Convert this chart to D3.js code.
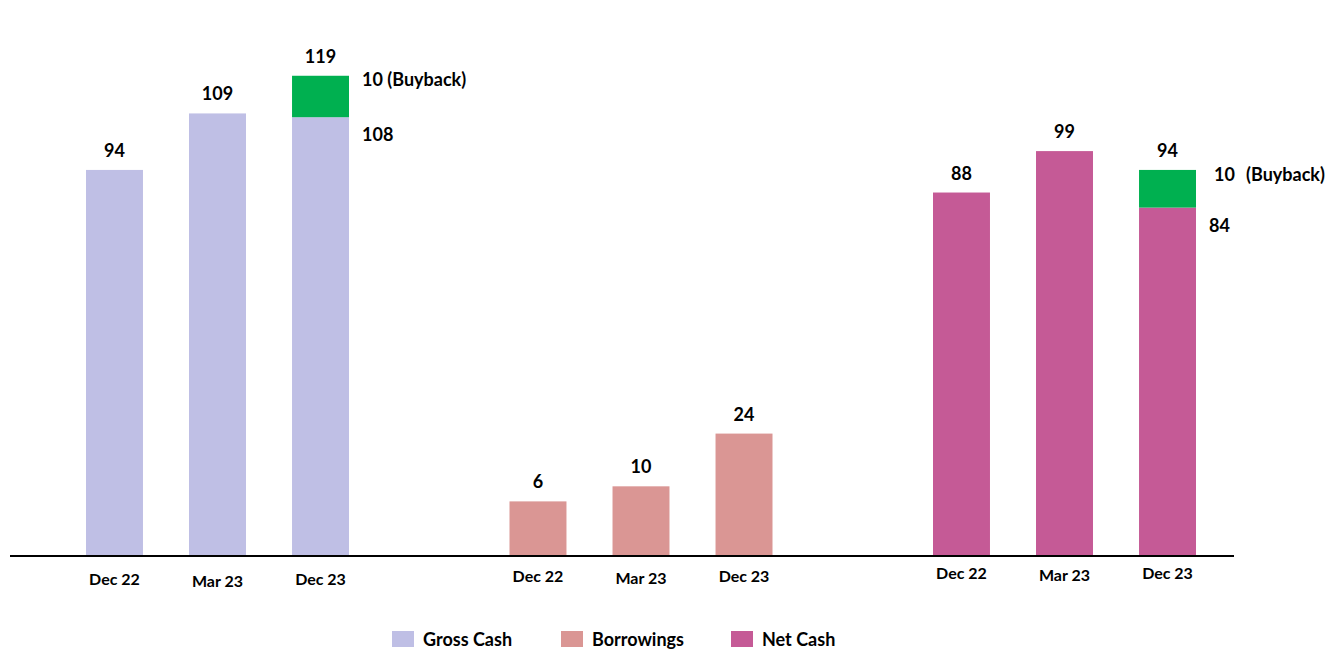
<!DOCTYPE html>
<html><head><meta charset="utf-8">
<script src="https://cdn.jsdelivr.net/npm/d3@7"></script>
<style>
body{margin:0;background:#fff;}
text{font-family:Lato,"Open Sans",sans-serif;font-weight:700;fill:#000;}
</style></head>
<body>
<svg id="chart" width="1332" height="649"></svg>
<script>
// Data
const groups = ["Gross Cash", "Borrowings", "Net Cash"];
const periods = ["Dec 22", "Mar 23", "Dec 23"];
const grossCash = [94, 109, 108];
const borrowings = [6, 10, 24];
const netCash = [88, 99, 84];
const buyback = [0, 0, 10];          // buyback added on top of Dec 23 (Gross & Net)
const stackTotals = [119, null, 94];  // labels shown above stacked bars
const colors = ["#BFBFE5", "#DA9694", "#C55A96"];
const buybackColor = "#00B050";

const series = [grossCash, borrowings, netCash];
const svg = d3.select("#chart");
const baseline = 556;

const y = d3.scaleLinear().domain([-8.5, 120]).range([baseline, 72]);
const xg = d3.scalePoint().domain(groups).range([217.5, 1064.5]);
const xi = d3.scaleBand().domain(periods).range([-131.5, 131.5]).paddingInner(0.447).paddingOuter(0);

groups.forEach((g, gi) => {
  const vals = series[gi];
  const gx = xg(g);
  const G = svg.append("g").attr("transform", `translate(${gx},0)`);
  vals.forEach((v, i) => {
    const p = periods[i];
    const x0 = xi(p);
    const bw = xi.bandwidth();
    G.append("rect").attr("x", x0).attr("y", y(v)).attr("width", bw)
      .attr("height", baseline - y(v)).attr("fill", colors[gi]);
    const hasStack = (gi !== 1) && buyback[i] > 0;
    if (hasStack) {
      const total = stackTotals[gi];
      G.append("rect").attr("x", x0).attr("y", y(total)).attr("width", bw)
        .attr("height", y(v) - y(total)).attr("fill", buybackColor);
      G.append("text").attr("x", x0 + bw / 2).attr("y", y(total) - 13)
        .attr("text-anchor", "middle").attr("font-size", 18).text(total);
      G.append("text").attr("x", x0 + bw + 13).attr("y", y(v) + 24)
        .attr("font-size", 18).text(v);
      const mid = (y(v) + y(total)) / 2;
      if (gi === 0) {
        G.append("text").attr("x", x0 + bw + 13).attr("y", mid - 10)
          .attr("font-size", 18).text(buyback[i] + " (Buyback)");
      } else {
        G.append("text").attr("x", x0 + bw + 18).attr("y", mid - 8)
          .attr("font-size", 18).text(buyback[i]);
        G.append("text").attr("x", x0 + bw + 50).attr("y", mid - 8)
          .attr("font-size", 18).text("(Buyback)");
      }
    } else {
      G.append("text").attr("x", x0 + bw / 2).attr("y", y(v) - 13)
        .attr("text-anchor", "middle").attr("font-size", 18).text(v);
    }
    G.append("text").attr("x", x0 + bw / 2).attr("y", 585 - gi * 3 + (i === 1 ? 2 : 0))
      .attr("text-anchor", "middle").attr("font-size", 16).text(p);
  });
});

// axis line
svg.append("line").attr("x1", 10).attr("x2", 1234).attr("y1", baseline).attr("y2", baseline)
  .attr("stroke", "#000").attr("stroke-width", 2);

// legend
const legX = [392, 561, 731];
groups.forEach((g, gi) => {
  svg.append("rect").attr("x", legX[gi]).attr("y", 631).attr("width", 22).attr("height", 16)
    .attr("fill", colors[gi]);
  svg.append("text").attr("x", legX[gi] + 31).attr("y", 646).attr("font-size", 18).text(g);
});
</script>
</body></html>
